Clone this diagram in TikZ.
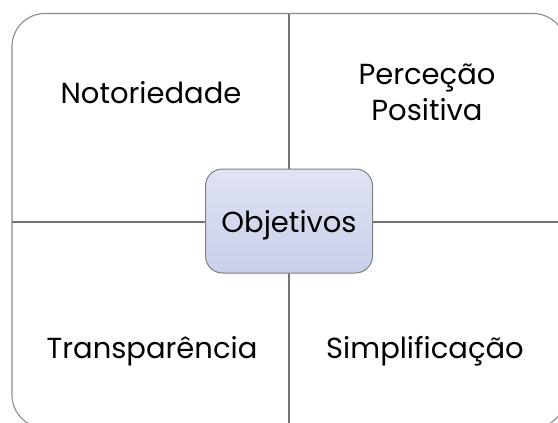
\documentclass[tikz,border=0pt]{standalone}
\usepackage{fontspec}
\setmainfont{Poppins}
\begin{document}
\begin{tikzpicture}[x=1pt,y=-1pt,
  frame/.style={draw=black!45, line width=1.1pt, rounded corners=33pt},
  divider/.style={draw=black!55, line width=1.5pt},
  centerbox/.style={draw=black!50, line width=1pt, rounded corners=17pt,
    top color={rgb,255:red,223;green,227;blue,242}, bottom color={rgb,255:red,200;green,207;blue,234},
    minimum width=167pt, minimum height=104pt},
  label/.style={font=\fontsize{29}{36}\selectfont, align=center, anchor=base, text=black, inner sep=0pt}]
\useasboundingbox (0,0) rectangle (558,423);
\clip (0,0) rectangle (558,423);
\fill[white] (0,0) rectangle (558,423);
\draw[frame] (12,13.5) rectangle (566,428);
\coordinate (ctop) at (289,13.5);
\coordinate (cbot) at (289,430);
\coordinate (cleft) at (12,222);
\coordinate (cright) at (566,222);
\draw[divider] (ctop) -- (cbot);
\draw[divider] (cleft) -- (cright);
\node[centerbox] (obj) at (289,221) {};
\node[label] (objt) at (289,232) {Objetivos};
\node[label] (noto) at (151,103) {Notoriedade};
\node[label] (perc) at (427,120) {Perceção\\Positiva};
\node[label] (trans) at (152,358) {Transparência};
\node[label] (simp) at (425,358) {Simplificação};
\end{tikzpicture}
\end{document}
